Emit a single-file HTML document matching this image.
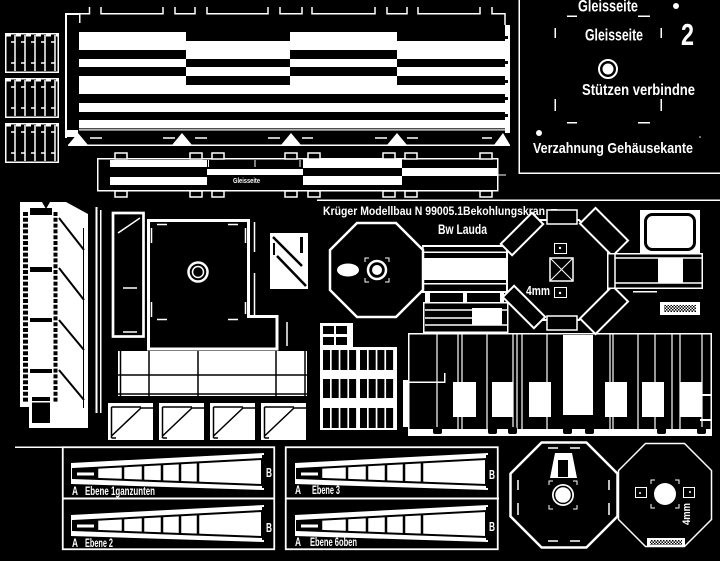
<!DOCTYPE html>
<html><head><meta charset="utf-8">
<style>
html,body{margin:0;padding:0;background:#000;}
svg{display:block;}
text{font-family:"Liberation Sans Narrow","Liberation Sans",sans-serif;font-weight:bold;fill:#fff;}
</style></head><body>
<svg width="720" height="561" viewBox="0 0 720 561" xmlns="http://www.w3.org/2000/svg">
<defs>
<pattern id="hatch" width="3" height="3" patternUnits="userSpaceOnUse">
<rect width="3" height="3" fill="#fff"/><rect width="1.5" height="1.5" fill="#000"/><rect x="1.5" y="1.5" width="1.5" height="1.5" fill="#000"/>
</pattern>
<g id="sb">
<rect x="5.75" y="0.75" width="52.5" height="38.5" fill="none" stroke="#fff" stroke-width="1.5"/>
<line x1="6" y1="2" x2="58" y2="2" stroke="#fff" stroke-width="3" stroke-dasharray="5 5"/>
<path d="M15,2 V38 M25,2 V38 M35,2 V38 M45,2 V38 M55,2 V38 M11,9 H15 M21,9 H25 M31,9 H35 M41,9 H45 M51,9 H55 M11,30 H15 M21,30 H25 M31,30 H35 M41,30 H45 M51,30 H55" stroke="#fff" stroke-width="1.5" fill="none"/>
</g>
<g id="wd">
<polygon points="71,463 264,453 264,490 71,484" fill="#fff"/>
<polygon points="73,469 262,459 262,485 73,478" fill="#fff" stroke="#000" stroke-width="2"/>
<polygon points="74,469.5 97,468.3 97,479.2 74,478" fill="#000"/>
<rect x="77" y="472.5" width="17" height="3" fill="#fff"/>
<path d="M97,467.7 V478.9 M123,466.4 V479.9 M143,465.3 V480.6 M162,464.3 V481.3 M180,463.3 V482 M198,462.4 V482.6" stroke="#000" stroke-width="2.5"/>
<rect x="262" y="455" width="3" height="33" fill="#000"/>
</g>
<g id="smb">
<rect x="0" y="0" width="45" height="37" fill="#fff"/>
<path d="M3.5,4 V35 M3.5,4 H33 M3.5,33 L33,5 H45 M3.5,35 H8" stroke="#000" stroke-width="1.5" fill="none"/>
</g>
</defs>
<rect width="720" height="561" fill="#000"/>

<!-- top-left strip boxes -->
<use href="#sb" y="33"/>
<use href="#sb" y="78"/>
<use href="#sb" y="123"/>

<!-- top block frame -->
<g fill="#fff">
<rect x="65" y="13" width="2" height="125"/>
<rect x="65" y="13" width="15" height="2"/>
<rect x="79" y="13" width="1.5" height="10"/>
<rect x="65" y="130" width="13" height="7"/>
<!-- stripes A -->
<rect x="79" y="32" width="107" height="18"/><rect x="79" y="59" width="107" height="8"/><rect x="79" y="76" width="107" height="18"/><rect x="79" y="103" width="107" height="9"/><rect x="79" y="120" width="107" height="10.5"/>
<rect x="290" y="32" width="107" height="18"/><rect x="290" y="59" width="107" height="8"/><rect x="290" y="76" width="107" height="18"/><rect x="290" y="103" width="107" height="9"/><rect x="290" y="120" width="107" height="10.5"/>
<!-- stripes B -->
<rect x="186" y="41" width="104" height="18"/><rect x="186" y="67" width="104" height="9"/><rect x="186" y="85" width="104" height="9"/><rect x="186" y="103" width="104" height="9"/><rect x="186" y="120" width="104" height="10.5"/>
<rect x="397" y="41" width="108" height="18"/><rect x="397" y="67" width="108" height="9"/><rect x="397" y="85" width="108" height="9"/><rect x="397" y="103" width="108" height="9"/><rect x="397" y="120" width="108" height="10.5"/>
<rect x="505" y="25" width="5" height="108"/>
<rect x="68" y="144.5" width="442" height="1.5"/>
<polygon points="68,145 78,133 88,145"/>
<polygon points="172,145 182,133 192,145"/>
<polygon points="281,145 291,133 301,145"/>
<polygon points="387,145 397,133 407,145"/>
<polygon points="494,145 503,133 510,145"/>
</g>
<rect x="79" y="128.3" width="426" height="1" fill="#000"/>
<g fill="#000"><rect x="505" y="36" width="3" height="3"/><rect x="505" y="61" width="3" height="3"/><rect x="505" y="80" width="3" height="3"/><rect x="505" y="97" width="3" height="3"/><rect x="505" y="114" width="3" height="3"/></g>
<path d="M65,13.75 H89.5 V7 M101,7 V13.75 H163 V7 M175,7 V13.75 H195 V7 M207,7 V13.75 H268 V7 M280,7 V13.75 H302 V7 M312,7 V13.75 H375 V7 M387,7 V13.75 H407 V7 M418,7 V13.75 H480 V7 M492,7 V13.75 H505 V25" stroke="#fff" stroke-width="1.5" fill="none"/>
<path d="M90,138 H102 M163,138 H175 M195,138 H207 M268,138 H280 M302,138 H313 M375,138 H387 M407,138 H418 M482,138 H492" stroke="#fff" stroke-width="1.5"/>

<!-- row 2 -->
<g fill="#fff">
<rect x="110" y="160" width="97" height="7"/><rect x="110" y="177" width="97" height="8"/>
<rect x="207" y="169" width="96" height="6"/>
<rect x="303" y="159" width="99" height="9"/><rect x="303" y="176" width="99" height="9"/>
<rect x="402" y="168" width="95" height="8"/>
</g>
<rect x="97.75" y="158.75" width="400" height="32" fill="none" stroke="#fff" stroke-width="1.5"/>
<g fill="#000" stroke="#fff" stroke-width="1.5">
<rect x="115" y="153" width="12" height="6"/><rect x="190" y="153" width="12" height="6"/><rect x="212" y="153" width="12" height="6"/><rect x="285" y="153" width="12" height="6"/><rect x="308" y="153" width="12" height="6"/><rect x="383" y="153" width="12" height="6"/><rect x="405" y="153" width="12" height="6"/><rect x="480" y="153" width="12" height="6"/>
<rect x="115" y="191" width="12" height="6"/><rect x="190" y="191" width="12" height="6"/><rect x="212" y="191" width="12" height="6"/><rect x="285" y="191" width="12" height="6"/><rect x="308" y="191" width="12" height="6"/><rect x="383" y="191" width="12" height="6"/><rect x="405" y="191" width="12" height="6"/><rect x="480" y="191" width="12" height="6"/>
</g>
<path d="M208.5,160 V167 M255,160 V167 M300,160 V167 M498,175 H506" stroke="#fff" stroke-width="1"/>
<text x="233" y="183" font-size="7" font-weight="normal" textLength="27" lengthAdjust="spacingAndGlyphs">Gleisseite</text>

<!-- top right panel -->
<rect x="518.5" y="0" width="1.5" height="173" fill="#fff"/>
<rect x="518.5" y="172.5" width="201.5" height="1.5" fill="#fff"/>
<text x="578" y="11.5" font-size="17" textLength="60" lengthAdjust="spacingAndGlyphs">Gleisseite</text>
<text x="585" y="40.5" font-size="17" textLength="58" lengthAdjust="spacingAndGlyphs">Gleisseite</text>
<text x="681" y="45" font-size="31" textLength="13" lengthAdjust="spacingAndGlyphs">2</text>
<text x="582" y="95" font-size="16" textLength="113" lengthAdjust="spacingAndGlyphs">Stützen verbindne</text>
<text x="533" y="153" font-size="15" textLength="160" lengthAdjust="spacingAndGlyphs">Verzahnung Gehäusekante</text>
<g fill="#fff">
<rect x="567" y="15.5" width="10" height="1.5"/><rect x="638" y="15.5" width="12" height="1.5"/>
<rect x="554.5" y="28" width="1.5" height="10"/><rect x="660.5" y="28" width="1.5" height="10"/>
<rect x="554.5" y="99" width="1.5" height="12"/><rect x="660.5" y="99" width="1.5" height="12"/>
<rect x="567" y="122" width="10" height="1.5"/><rect x="638" y="122" width="12" height="1.5"/>
<circle cx="676" cy="6" r="3"/><circle cx="539" cy="133" r="3"/><circle cx="700" cy="137" r="0.8"/>
<circle cx="608" cy="69" r="5.5"/>
</g>
<circle cx="608" cy="69" r="9" fill="none" stroke="#fff" stroke-width="2"/>

<!-- left column -->
<rect x="20" y="202" width="68" height="226" fill="#fff"/>
<g fill="#000">
<polygon points="66,202 88,202 88,214"/>
<polygon points="42,202 50,202 46,209"/>
<rect x="30" y="208" width="22" height="7"/>
<rect x="30" y="267" width="22" height="5"/>
<rect x="30" y="318" width="22" height="4"/>
<rect x="30" y="369" width="22" height="4"/>
<rect x="32" y="397" width="18" height="26"/>
<rect x="20" y="407" width="9" height="21"/>
</g>
<g stroke="#000" fill="none">
<line x1="25.5" y1="212" x2="25.5" y2="402" stroke-width="5" stroke-dasharray="4 1.8"/>
<line x1="55.5" y1="212" x2="55.5" y2="402" stroke-width="4" stroke-dasharray="4 1.8"/>
<path d="M59,218 L84,250 M59,268 L84,300 M59,320 L84,350 M59,370 L84,400" stroke-width="2"/>
<line x1="83.5" y1="228" x2="83.5" y2="408" stroke-width="1"/>
</g>
<rect x="32" y="401" width="18" height="1.5" fill="#fff"/>
<rect x="95.5" y="207" width="2" height="206" fill="#fff"/>
<rect x="100" y="210" width="1.5" height="203" fill="#fff"/>

<!-- tall rect -->
<rect x="113" y="213" width="30.5" height="123.5" fill="none" stroke="#fff" stroke-width="2.7"/>
<path d="M118,233 L140,218 M123,288 H137 M123,332 H137" stroke="#fff" stroke-width="1.5"/>

<!-- big square -->
<polygon points="148.5,220.5 248.5,220.5 248.5,316.5 277,316.5 277,349 148.5,349" fill="#000" stroke="#fff" stroke-width="3"/>
<path d="M157,224.5 H167 M228,224.5 H238 M157,319.5 H167 M228,319.5 H238 M151.5,228 V243 M151.5,302 V317 M245.5,228 V243 M245.5,302 V314 M254.5,222 V252 M254.5,273 V315 M287,322 V346" stroke="#fff" stroke-width="1.5"/>
<circle cx="198" cy="272" r="9.5" fill="none" stroke="#fff" stroke-width="2.5"/>
<circle cx="198" cy="272" r="5.5" fill="none" stroke="#fff" stroke-width="1.5"/>

<!-- small diag square -->
<rect x="270" y="233" width="38" height="56" fill="#fff"/>
<path d="M273,237 L302,266 M277,256 L306,286" stroke="#000" stroke-width="2.5"/>
<rect x="300" y="237" width="3" height="16" fill="#000"/>
<rect x="273" y="243" width="2" height="12" fill="#000"/>

<!-- table -->
<rect x="118" y="351" width="189" height="45" fill="#fff"/>
<path d="M120.5,351 V396 M149,351 V396 M198,351 V396 M276,351 V396 M305,351 V396 M118,375 H307 M118,394 H307" stroke="#000" stroke-width="1.5"/>

<!-- small boxes -->
<use href="#smb" x="108" y="403"/>
<use href="#smb" x="159" y="403"/>
<use href="#smb" x="210" y="403"/>
<use href="#smb" x="261" y="403"/>

<!-- line y200 -->
<rect x="317" y="199.5" width="403" height="1.5" fill="#fff"/>

<!-- texts -->
<text x="323" y="215" font-size="12" textLength="222" lengthAdjust="spacingAndGlyphs">Krüger Modellbau N 99005.1Bekohlungskran</text>
<rect x="551" y="209" width="6" height="3" fill="#fff"/><rect x="560" y="210" width="14" height="2" fill="#fff"/>
<text x="438" y="234" font-size="14" font-weight="normal" textLength="49" lengthAdjust="spacingAndGlyphs">Bw Lauda</text>

<!-- left octagon -->
<polygon points="357,223 396,223 423,250 423,290 396,317 357,317 330,290 330,250" fill="#000" stroke="#fff" stroke-width="2.5"/>
<ellipse cx="348" cy="270" rx="11" ry="6.5" fill="#fff"/>
<circle cx="377" cy="270" r="9" fill="none" stroke="#fff" stroke-width="2.5"/>
<circle cx="377" cy="270" r="5" fill="#fff"/>
<path d="M365,262 V258 H369 M385,258 H389 V262 M389,278 V282 H385 M369,282 H365 V278" stroke="#fff" stroke-width="1" fill="none"/>

<!-- arm -->
<g fill="#fff">
<rect x="422" y="245" width="95" height="2"/>
<rect x="424" y="251.5" width="93" height="1.5"/>
<rect x="422" y="258" width="95" height="22"/>
<rect x="422" y="283" width="95" height="1.5"/>
<rect x="422" y="291" width="95" height="2"/>
<rect x="425" y="293" width="5" height="9"/><rect x="463" y="293" width="4" height="9"/><rect x="500" y="293" width="4" height="9"/>
<rect x="472" y="308" width="30" height="17"/>
</g>
<path d="M423,245 V293 M516,245 V293 M425,310 H507 M425,318 H472 M425,325 H507" stroke="#fff" stroke-width="1.5"/>
<rect x="423.75" y="302.75" width="84" height="29.5" fill="none" stroke="#fff" stroke-width="1.5"/>

<!-- window grid -->
<rect x="320" y="323" width="33" height="24" fill="#fff"/>
<g fill="#000">
<rect x="323" y="326" width="11" height="8"/><rect x="336" y="326" width="11" height="8"/><rect x="323" y="337" width="11" height="8"/><rect x="336" y="337" width="11" height="8"/>
</g>
<rect x="320" y="347" width="77" height="83" fill="#fff"/>
<g fill="#000">
<rect x="323" y="350" width="7" height="20"/><rect x="331.7" y="350" width="7" height="20"/><rect x="340.4" y="350" width="7" height="20"/><rect x="349.1" y="350" width="7" height="20"/>
<rect x="360" y="350" width="7" height="20"/><rect x="368.7" y="350" width="7" height="20"/><rect x="377.4" y="350" width="7" height="20"/><rect x="386.1" y="350" width="7" height="20"/>
<rect x="323" y="379" width="7" height="19"/><rect x="331.7" y="379" width="7" height="19"/><rect x="340.4" y="379" width="7" height="19"/><rect x="349.1" y="379" width="7" height="19"/>
<rect x="360" y="379" width="7" height="19"/><rect x="368.7" y="379" width="7" height="19"/><rect x="377.4" y="379" width="7" height="19"/><rect x="386.1" y="379" width="7" height="19"/>
<rect x="323" y="408" width="7" height="20"/><rect x="331.7" y="408" width="7" height="20"/><rect x="340.4" y="408" width="7" height="20"/><rect x="349.1" y="408" width="7" height="20"/>
<rect x="360" y="408" width="7" height="20"/><rect x="368.7" y="408" width="7" height="20"/><rect x="377.4" y="408" width="7" height="20"/><rect x="386.1" y="408" width="7" height="20"/>
</g>

<!-- big lower block -->
<rect x="408.75" y="333.75" width="302.5" height="96" fill="none" stroke="#fff" stroke-width="1.5"/>
<path d="M437,334 V430 M458,334 V430 M462,334 V430 M487,334 V430 M513,334 V430 M517,334 V430 M522,334 V430 M547,334 V430 M610,334 V430 M613,334 V430 M638,334 V430 M655,334 V430 M672,334 V430 M680,334 V430 M702,334 V430" stroke="#fff" stroke-width="1.2"/>
<g fill="#fff">
<rect x="453" y="382" width="23" height="35"/><rect x="492" y="382" width="21" height="35"/><rect x="529" y="382" width="22" height="35"/>
<rect x="563" y="335" width="30" height="80"/>
<rect x="605" y="382" width="22" height="35"/><rect x="642" y="382" width="22" height="35"/><rect x="680" y="382" width="22" height="35"/>
<rect x="408" y="429" width="304" height="7"/>
<rect x="403" y="380" width="6" height="47"/>
<rect x="408" y="381.5" width="37" height="1.5"/><rect x="444" y="373" width="1.5" height="10"/>
<rect x="700" y="394" width="12" height="2"/><rect x="700" y="419" width="12" height="2"/>
</g>
<g fill="#000">
<rect x="433" y="427" width="9" height="7" rx="2"/><rect x="488" y="427" width="9" height="7" rx="2"/><rect x="508" y="427" width="9" height="7" rx="2"/><rect x="563" y="427" width="9" height="7" rx="2"/><rect x="585" y="427" width="9" height="7" rx="2"/><rect x="657" y="427" width="9" height="7" rx="2"/><rect x="697" y="427" width="9" height="7" rx="2"/>
</g>

<!-- right octagon -->
<polygon points="536,220 579,220 608,249 608,291 579,320 536,320 507,291 507,249" fill="#000" stroke="#fff" stroke-width="2"/>
<g fill="#000" stroke="#fff" stroke-width="2">
<rect x="-22" y="-8" width="44" height="16" transform="translate(522,234) rotate(-45)"/>
<rect x="-23" y="-11" width="46" height="22" transform="translate(604,232) rotate(45)"/>
<rect x="-22" y="-8" width="44" height="16" transform="translate(524,307) rotate(45)"/>
<rect x="-23" y="-11" width="46" height="22" transform="translate(604,310) rotate(-45)"/>
</g>
<g fill="#000" stroke="#fff" stroke-width="1.5">
<rect x="547" y="210" width="30" height="14"/>
<rect x="547" y="316" width="30" height="14"/>
<rect x="550" y="258" width="23" height="23"/>
</g>
<path d="M550,258 L573,281 M573,258 L550,281" stroke="#fff" stroke-width="1"/>
<rect x="554.5" y="243.5" width="12" height="10" fill="none" stroke="#fff" stroke-width="1"/>
<rect x="554.5" y="287.5" width="12" height="10" fill="none" stroke="#fff" stroke-width="1"/>
<circle cx="560" cy="248" r="1.2" fill="#fff"/><circle cx="560" cy="293" r="1.2" fill="#fff"/>
<text x="526" y="295" font-size="13" textLength="24" lengthAdjust="spacingAndGlyphs">4mm</text>

<!-- cab -->
<rect x="640" y="210" width="60" height="43" fill="#fff"/>
<rect x="645.5" y="214.5" width="49" height="35" rx="7" fill="none" stroke="#000" stroke-width="3"/>
<!-- right bar -->
<rect x="607.75" y="253.75" width="94.5" height="34.5" fill="#000" stroke="#fff" stroke-width="1.5"/>
<rect x="658" y="258" width="25" height="25" fill="#fff"/>
<path d="M615,258 H702 M615,283 H702 M615,254 V288" stroke="#fff" stroke-width="1.5"/>
<rect x="633" y="291" width="24" height="1.5" fill="#fff"/>
<rect x="660" y="302" width="40" height="13" fill="#fff"/>
<rect x="664" y="305" width="32" height="7" fill="url(#hatch)"/>

<!-- bottom panels -->
<rect x="15" y="446.5" width="47" height="1.5" fill="#fff"/>
<rect x="62.75" y="447.25" width="211.5" height="102" fill="none" stroke="#fff" stroke-width="1.8"/>
<rect x="62" y="497.5" width="213" height="2" fill="#fff"/>
<rect x="285.75" y="447.25" width="212" height="102" fill="none" stroke="#fff" stroke-width="1.8"/>
<rect x="285" y="497.5" width="214" height="2" fill="#fff"/>
<use href="#wd"/>
<use href="#wd" y="52"/>
<use href="#wd" x="224"/>
<use href="#wd" x="224" y="52"/>
<g font-size="12">
<text x="72" y="495" textLength="6" lengthAdjust="spacingAndGlyphs">A</text>
<text x="85" y="495" textLength="70" lengthAdjust="spacingAndGlyphs">Ebene 1ganzunten</text>
<text x="72" y="547" textLength="6" lengthAdjust="spacingAndGlyphs">A</text>
<text x="85" y="547" textLength="28" lengthAdjust="spacingAndGlyphs">Ebene 2</text>
<text x="295" y="494" textLength="6" lengthAdjust="spacingAndGlyphs">A</text>
<text x="312" y="494" textLength="28" lengthAdjust="spacingAndGlyphs">Ebene 3</text>
<text x="295" y="546" textLength="6" lengthAdjust="spacingAndGlyphs">A</text>
<text x="310" y="546" textLength="47" lengthAdjust="spacingAndGlyphs">Ebene 6oben</text>
</g>
<g font-size="13">
<text x="266" y="477" textLength="6" lengthAdjust="spacingAndGlyphs">B</text>
<text x="266" y="532" textLength="6" lengthAdjust="spacingAndGlyphs">B</text>
<text x="489" y="479" textLength="6" lengthAdjust="spacingAndGlyphs">B</text>
<text x="489" y="531" textLength="6" lengthAdjust="spacingAndGlyphs">B</text>
</g>

<!-- bottom right octagon 1 -->
<polygon points="541.6,442.5 586.4,442.5 617.5,473.6 617.5,516.4 586.4,547.5 541.6,547.5 510.5,516.4 510.5,473.6" fill="#000" stroke="#fff" stroke-width="2.5"/>
<polygon points="555,453 572,453 577,478 550,478" fill="#fff"/>
<rect x="558" y="460" width="10" height="17" fill="#000"/>
<path d="M548,448 H558 M570,448 H580 M548,541 H558 M570,541 H580 M518,480 V490 M518,503 V515 M609,480 V490 M609,503 V515" stroke="#fff" stroke-width="1.5"/>
<circle cx="563" cy="495" r="11" fill="#fff"/>
<circle cx="563" cy="495" r="8.5" fill="none" stroke="#000" stroke-width="1.5"/>
<path d="M549,485 V481 H553 M573,481 H577 V485 M577,505 V509 H573 M553,509 H549 V505" stroke="#fff" stroke-width="1" fill="none"/>

<!-- bottom right octagon 2 -->
<polygon points="645.5,443.5 684.5,443.5 711.5,470.5 711.5,519.5 684.5,546.5 645.5,546.5 618.5,519.5 618.5,470.5" fill="#000" stroke="#fff" stroke-width="1.5"/>
<circle cx="665" cy="494" r="11" fill="#fff"/>
<path d="M651,484 V480 H655 M675,480 H679 V484 M679,504 V508 H675 M655,508 H651 V504" stroke="#fff" stroke-width="1" fill="none"/>
<rect x="635.5" y="487.5" width="11" height="10" fill="none" stroke="#fff" stroke-width="1"/>
<rect x="683.5" y="487.5" width="11" height="10" fill="none" stroke="#fff" stroke-width="1"/>
<circle cx="640" cy="493" r="1" fill="#fff"/><circle cx="690" cy="492" r="1" fill="#fff"/>
<text transform="translate(690,525) rotate(-90)" font-size="11" textLength="22" lengthAdjust="spacingAndGlyphs">4mm</text>
<rect x="647" y="538" width="38" height="9" fill="#fff"/>
<rect x="650" y="540" width="32" height="5" fill="url(#hatch)"/>
</svg>
</body></html>
